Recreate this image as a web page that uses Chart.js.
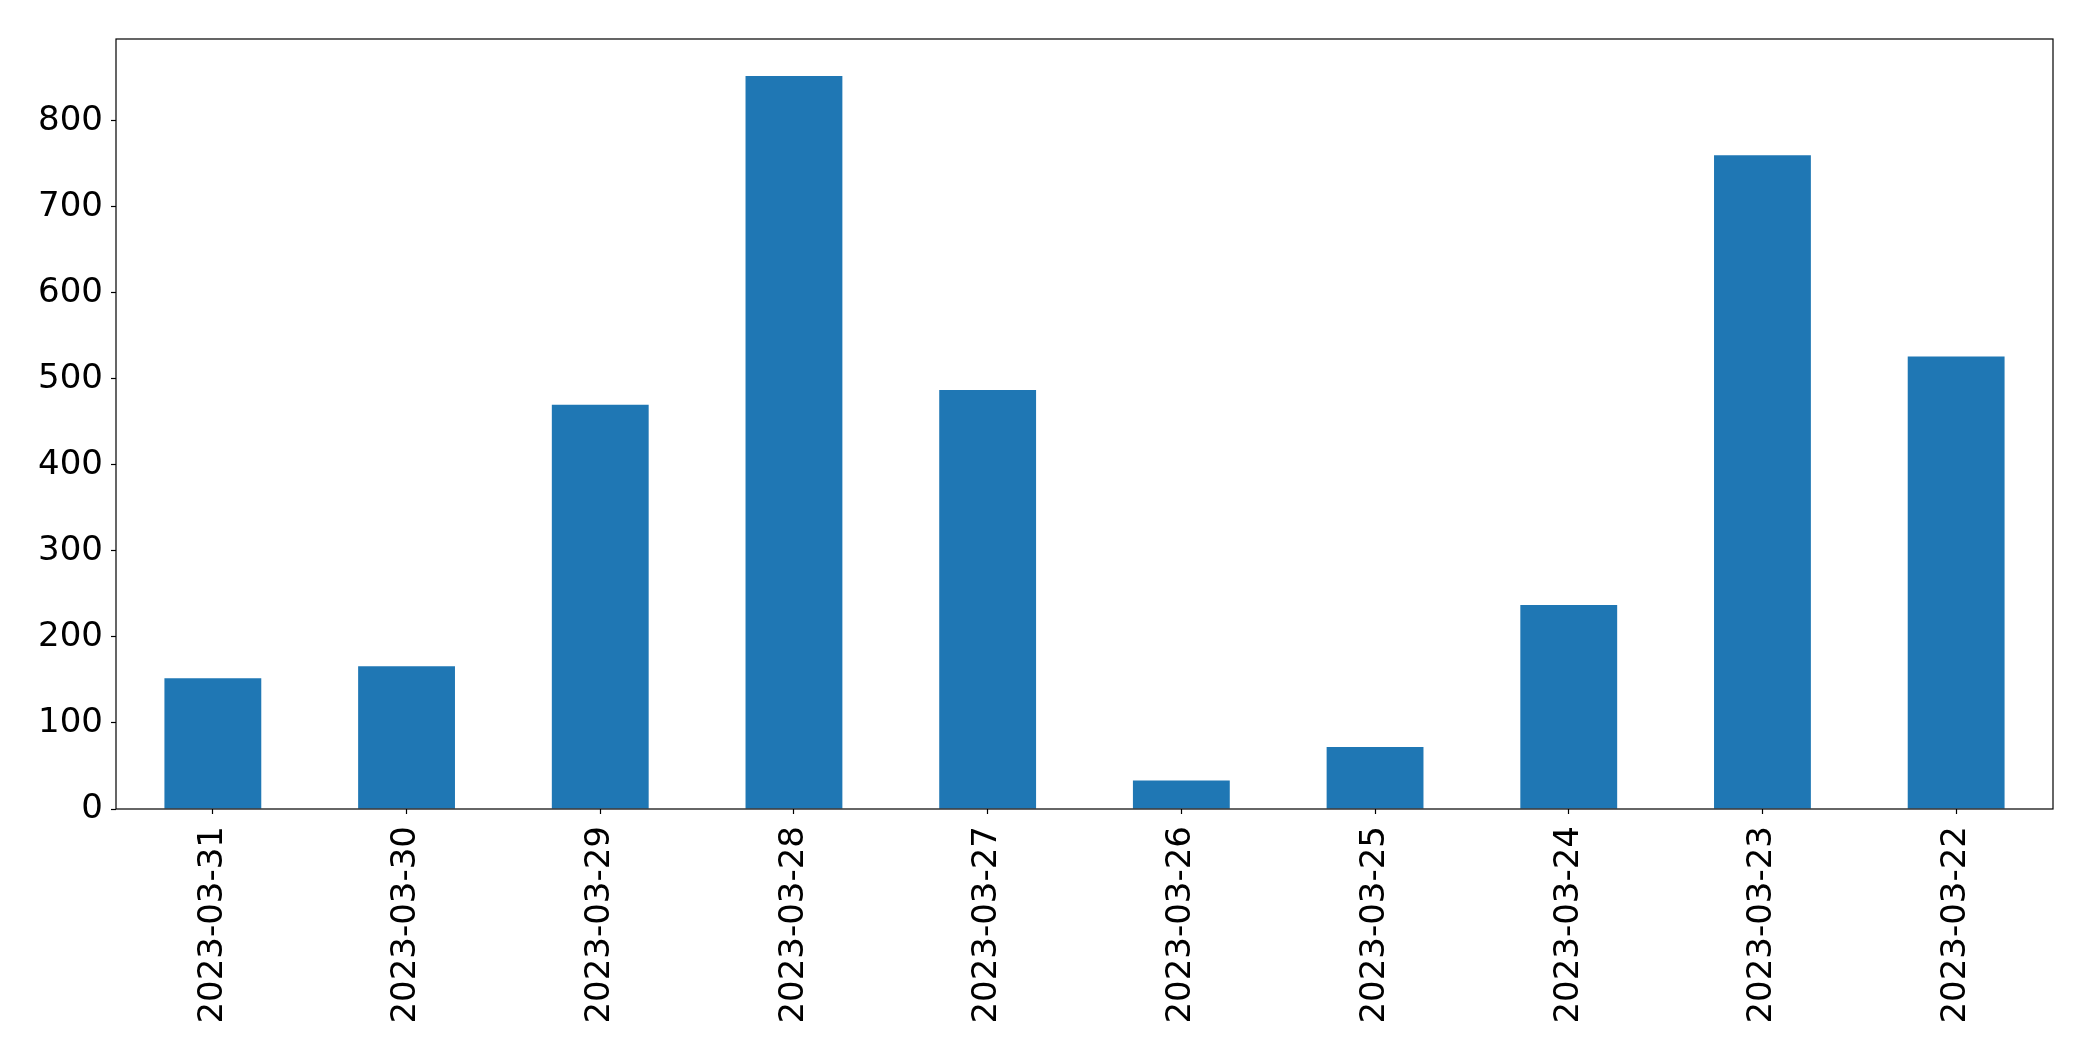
<!DOCTYPE html>
<html>
<head>
<meta charset="utf-8">
<script src="https://cdn.jsdelivr.net/npm/chart.js@4"></script>
<style>
  html, body { margin: 0; padding: 0; background: #fff; }
  canvas { display: block; }
</style>
</head>
<body>
<canvas id="chart1" width="2093" height="1061"></canvas>
<script>
const dates = ['2023-03-31','2023-03-30','2023-03-29','2023-03-28','2023-03-27',
               '2023-03-26','2023-03-25','2023-03-24','2023-03-23','2023-03-22'];
const counts = [152, 166, 470, 852, 487, 33, 72, 237, 760, 526];
const yTicks = [0, 100, 200, 300, 400, 500, 600, 700, 800];
const yMax = 895;

// box round the plot area, like matplotlib's spines
const frame = {
    id: 'frame',
    afterDraw(chart) {
        const a = chart.chartArea;
        const c = chart.ctx;
        c.save();
        c.strokeStyle = '#000';
        c.lineWidth = 1.2;
        c.strokeRect(a.left, a.top, a.right - a.left, a.bottom - a.top);
        c.restore();
    }
};

const ctx1 = document.getElementById('chart1').getContext('2d');
const chart1 = new Chart(ctx1, {
    type: 'bar',
    data: {
        labels: dates,
        datasets: [
            {
            data: counts,
            backgroundColor: '#1f77b4',
            barPercentage: 0.5,
            categoryPercentage: 1.0
            }
        ]
    },
    options: {
        responsive: false,
        animation: false,
        devicePixelRatio: 1,
        layout: { padding: { left: 0, top: 39, right: 40, bottom: 0 } },
        plugins: {
            legend: { display: false },
            tooltip: { enabled: false }
        },
        scales: {
            x: {
                afterFit: (s) => { s.height = 252; },
                grid: { display: true, drawOnChartArea: false, offset: false,
                        color: '#000', tickLength: 5, tickWidth: 1.2 },
                border: { display: false },
                ticks: {
                    color: '#000', padding: 12,
                    minRotation: 90, maxRotation: 90, autoSkip: false,
                    font: { family: 'DejaVu Sans', size: 34 }
                }
            },
            y: {
                min: 0,
                max: yMax,
                afterFit: (s) => { s.width = 116; },
                afterBuildTicks: (s) => { s.ticks = yTicks.map(v => ({ value: v })); },
                grid: { display: true, drawOnChartArea: false,
                        color: '#000', tickLength: 5, tickWidth: 1.2 },
                border: { display: false },
                ticks: {
                    color: '#000', padding: 8,
                    font: { family: 'DejaVu Sans', size: 34 }
                }
            }
        }
    },
    plugins: [frame]
});
</script>
</body>
</html>
